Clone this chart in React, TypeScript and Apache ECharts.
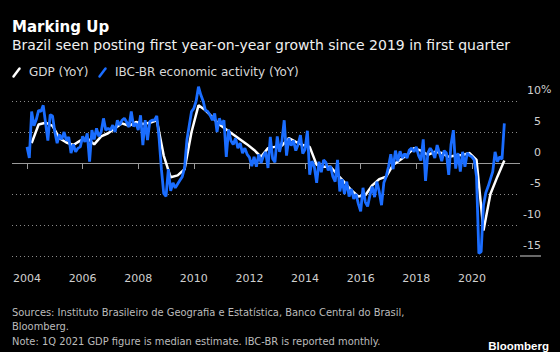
import React, { useEffect, useRef } from 'react';
import * as echarts from 'echarts';

const START_YEAR = 2004;

// Quarterly GDP YoY %, Q1 2004 .. Q1 2021 (plotted at quarter-end month)
const gdpYoY = [
  3.2, 6.2, 6.5, 6.0,
  4.0, 3.3, 2.9, 3.6,
  4.0, 3.0, 4.3, 4.8,
  5.6, 6.4, 6.0, 6.6,
  6.3, 6.5, 6.9, 1.2,
  -2.3, -2.0, -1.0, 5.0,
  9.3, 8.5, 7.4, 6.2,
  5.4, 4.6, 3.8, 3.0,
  2.1, 1.0, 2.4, 2.6,
  2.8, 4.0, 3.4, 2.9,
  2.6, -0.3, -0.6, -0.6,
  -1.9, -3.1, -4.4, -5.4,
  -5.2, -3.6, -2.6, -2.2,
  -0.3, 0.5, 1.3, 2.4,
  2.0, 1.3, 1.8, 1.6,
  1.0, 1.2, 1.3, 1.6,
  0.5, -10.9, -5.0, -2.2,
  0.4,
];

// Monthly IBC-BR YoY %, Jan 2004 .. Mar 2021
const ibcYoY = [
  2.6, 0.8, 8.3, 6.0, 7.0, 8.5, 8.3, 9.3, 6.5, 3.6, 7.8, 7.6,
  5.0, 3.2, 4.6, 3.8, 5.0, 3.6, 4.2, 1.6, 3.0, 1.8, 2.4, 2.6,
  4.3, 3.4, 4.8, 0.2, 5.3, 3.8, 5.6, 4.3, 5.0, 7.2, 5.3, 5.6,
  5.3, 6.1, 5.0, 6.9, 6.1, 6.9, 7.2, 6.6, 5.8, 8.3, 5.9, 6.4,
  5.3, 7.7, 2.9, 6.9, 3.7, 6.7, 6.9, 6.9, 7.6, 4.0, -1.0, -4.9,
  -5.4, -1.0, -4.5, -3.2, -4.0, -3.4, -2.8, -2.2, -0.8, 3.7, 6.0, 8.3,
  8.8, 10.0, 12.3, 11.0, 10.0, 8.5, 8.3, 7.7, 6.9, 8.0, 5.0, 7.2,
  6.2, 6.9, 1.0, 5.4, 3.6, 3.0, 4.0, 2.4, 3.2, 1.6, 2.4, 1.4,
  0.9, -0.5, 1.0, -0.6, 1.4, 0.0, 1.1, 1.8, -0.8, 4.2, 0.7, 0.1,
  4.3, 1.8, 3.5, 6.9, 1.2, 4.0, 2.8, 3.6, 2.0, 3.0, 4.5, 1.5,
  2.2, 5.2, -1.9, 0.3, -0.6, -3.2, 0.2, -1.5, 0.5, 0.1, -1.2, -0.5,
  -2.2, -3.0, 0.5, -4.6, -2.6, -5.0, -3.0, -5.4, -4.2, -5.8, -5.0, -6.6,
  -7.8, -4.0, -6.3, -7.0, -5.2, -3.8, -5.5, -3.0, -4.6, -6.8, -3.2, -2.2,
  -0.6, 1.4, -1.0, 2.0, 0.3, 1.9, 0.8, 1.5, 0.8, 2.1, 2.4, 1.8,
  2.6, 1.2, 0.4, 3.8, -2.9, 1.6, 2.4, 1.8, 0.8, 2.9, 1.6, 0.3,
  2.0, 1.6, -1.9, 3.0, 5.3, -0.9, 1.6, -1.4, 1.8, -0.6, 1.6, 1.2,
  1.0, 0.5, -2.2, -14.6, -14.3, -6.8, -4.8, -3.8, -2.6, -1.4, 1.8, 0.2,
  1.0, 0.6, 6.4,
];

const xTickYears = [2004, 2006, 2008, 2010, 2012, 2014, 2016, 2018, 2020];
const yTickValues = [-15, -10, -5, 0, 5, 10];

const titleText = 'Marking Up';
const subtitleText = 'Brazil seen posting first year-on-year growth since 2019 in first quarter';
const legendNames = ['GDP (YoY)', 'IBC-BR economic activity (YoY)'];
const footerLines = [
  'Sources: Instituto Brasileiro de Geografia e Estatística, Banco Central do Brasil,',
  'Bloomberg.',
  'Note: 1Q 2021 GDP figure is median estimate. IBC-BR is reported monthly.',
];

const WHITE = '#ffffff';
const BLUE = '#1a6dff';
const FONT = '"DejaVu Sans", Verdana, sans-serif';
const FOOT_FONT = '"DejaVu Sans Condensed", "DejaVu Sans", sans-serif';

export default function App() {
  const ref = useRef<HTMLDivElement>(null);

  useEffect(() => {
    if (!ref.current) return;
    const chart = echarts.init(ref.current, null, { renderer: 'svg' });

    const gdpData = gdpYoY.map((v, i) => [START_YEAR + (3 * i + 2) / 12, v]);
    const ibcData = ibcYoY.map((v, i) => [START_YEAR + i / 12, v]);

    chart.setOption({
      animation: false,
      backgroundColor: '#000000',
      grid: { left: 12, right: 40, top: 85.5, bottom: 96, containLabel: false },
      xAxis: {
        type: 'value',
        min: 2003.46,
        max: 2021.73,
        offset: 5,
        axisLine: { show: false },
        axisTick: {
          show: true,
          length: 6,
          customValues: xTickYears,
          lineStyle: { color: '#9a9a9a', width: 1 },
        },
        axisLabel: {
          customValues: xTickYears,
          color: '#d0d0d0',
          fontFamily: FONT,
          fontSize: 11,
          margin: 12,
          formatter: (v: number) => String(Math.round(v)),
        },
        splitLine: { show: false },
      },
      yAxis: {
        type: 'value',
        position: 'right',
        min: -15,
        max: 12.5,
        interval: 5,
        axisLine: { show: false },
        axisTick: { show: false },
        axisLabel: {
          showMaxLabel: false,
          color: '#d0d0d0',
          fontFamily: FONT,
          fontSize: 11,
          align: 'right',
          margin: 21,
          verticalAlign: 'bottom',
          padding: [0, 0, 5, 0],
          formatter: (v: number) => (yTickValues.includes(v) ? String(v) : ''),
        },
        splitLine: {
          show: true,
          showMaxLine: false,
          lineStyle: { color: '#8a8a8a', width: 1, type: [1, 3] },
        },
      },
      series: [
        {
          name: legendNames[0],
          type: 'line',
          data: gdpData,
          showSymbol: false,
          symbol: 'none',
          lineStyle: { color: WHITE, width: 2.5 },
          z: 3,
          markLine: {
            silent: true,
            symbol: 'none',
            label: { show: false },
            lineStyle: { color: '#9a9a9a', type: 'solid', width: 1 },
            data: [{ yAxis: 0 }],
            z: 1,
          },
        },
        {
          name: legendNames[1],
          type: 'line',
          data: ibcData,
          showSymbol: false,
          symbol: 'none',
          lineStyle: { color: BLUE, width: 2.8 },
          z: 4,
        },
      ],
      graphic: [
        {
          type: 'text', left: 12, top: 19,
          style: { text: titleText, fill: '#ffffff', font: `bold 15px ${FONT}` },
        },
        {
          type: 'text', left: 12, top: 38,
          style: { text: subtitleText, fill: '#f0f0f0', font: `14px ${FONT}` },
        },
        {
          type: 'line',
          shape: { x1: 13.5, y1: 76.5, x2: 19.5, y2: 68.5 },
          style: { stroke: WHITE, lineWidth: 2.5, lineCap: 'round' },
        },
        {
          type: 'text', x: 29, y: 72,
          style: { text: legendNames[0], fill: '#d8d8d8', font: `12px ${FONT}`, verticalAlign: 'middle' },
        },
        {
          type: 'line',
          shape: { x1: 99.5, y1: 76.5, x2: 105.5, y2: 68.5 },
          style: { stroke: BLUE, lineWidth: 2.5, lineCap: 'round' },
        },
        {
          type: 'text', x: 115, y: 72,
          style: { text: legendNames[1], fill: '#d8d8d8', font: `12px ${FONT}`, verticalAlign: 'middle' },
        },
        {
          type: 'text', x: 541, y: 89,
          style: { text: '%', fill: '#d0d0d0', font: `11px ${FONT}`, verticalAlign: 'middle' },
        },
        {
          type: 'line',
          shape: { x1: 520, y1: 256, x2: 541, y2: 256 },
          style: { stroke: '#d0d0d0', lineWidth: 1 },
        },
        {
          type: 'text', x: 12, y: 312,
          style: { text: footerLines[0], fill: '#bcbcbc', font: `11px ${FOOT_FONT}`, verticalAlign: 'middle' },
        },
        {
          type: 'text', x: 12, y: 326.5,
          style: { text: footerLines[1], fill: '#bcbcbc', font: `11px ${FOOT_FONT}`, verticalAlign: 'middle' },
        },
        {
          type: 'text', x: 12, y: 341.5,
          style: { text: footerLines[2], fill: '#bcbcbc', font: `11px ${FOOT_FONT}`, verticalAlign: 'middle' },
        },
        {
          type: 'text', x: 549, y: 346,
          style: {
            text: 'Bloomberg', fill: '#ffffff',
            font: `bold 11.5px "Liberation Sans", Arial, sans-serif`,
            align: 'right', verticalAlign: 'middle',
          },
        },
      ],
    });

    return () => chart.dispose();
  }, []);

  return (
    <div
      ref={ref}
      style={{ position: 'fixed', left: 0, top: 0, width: 560, height: 352 }}
    />
  );
}
